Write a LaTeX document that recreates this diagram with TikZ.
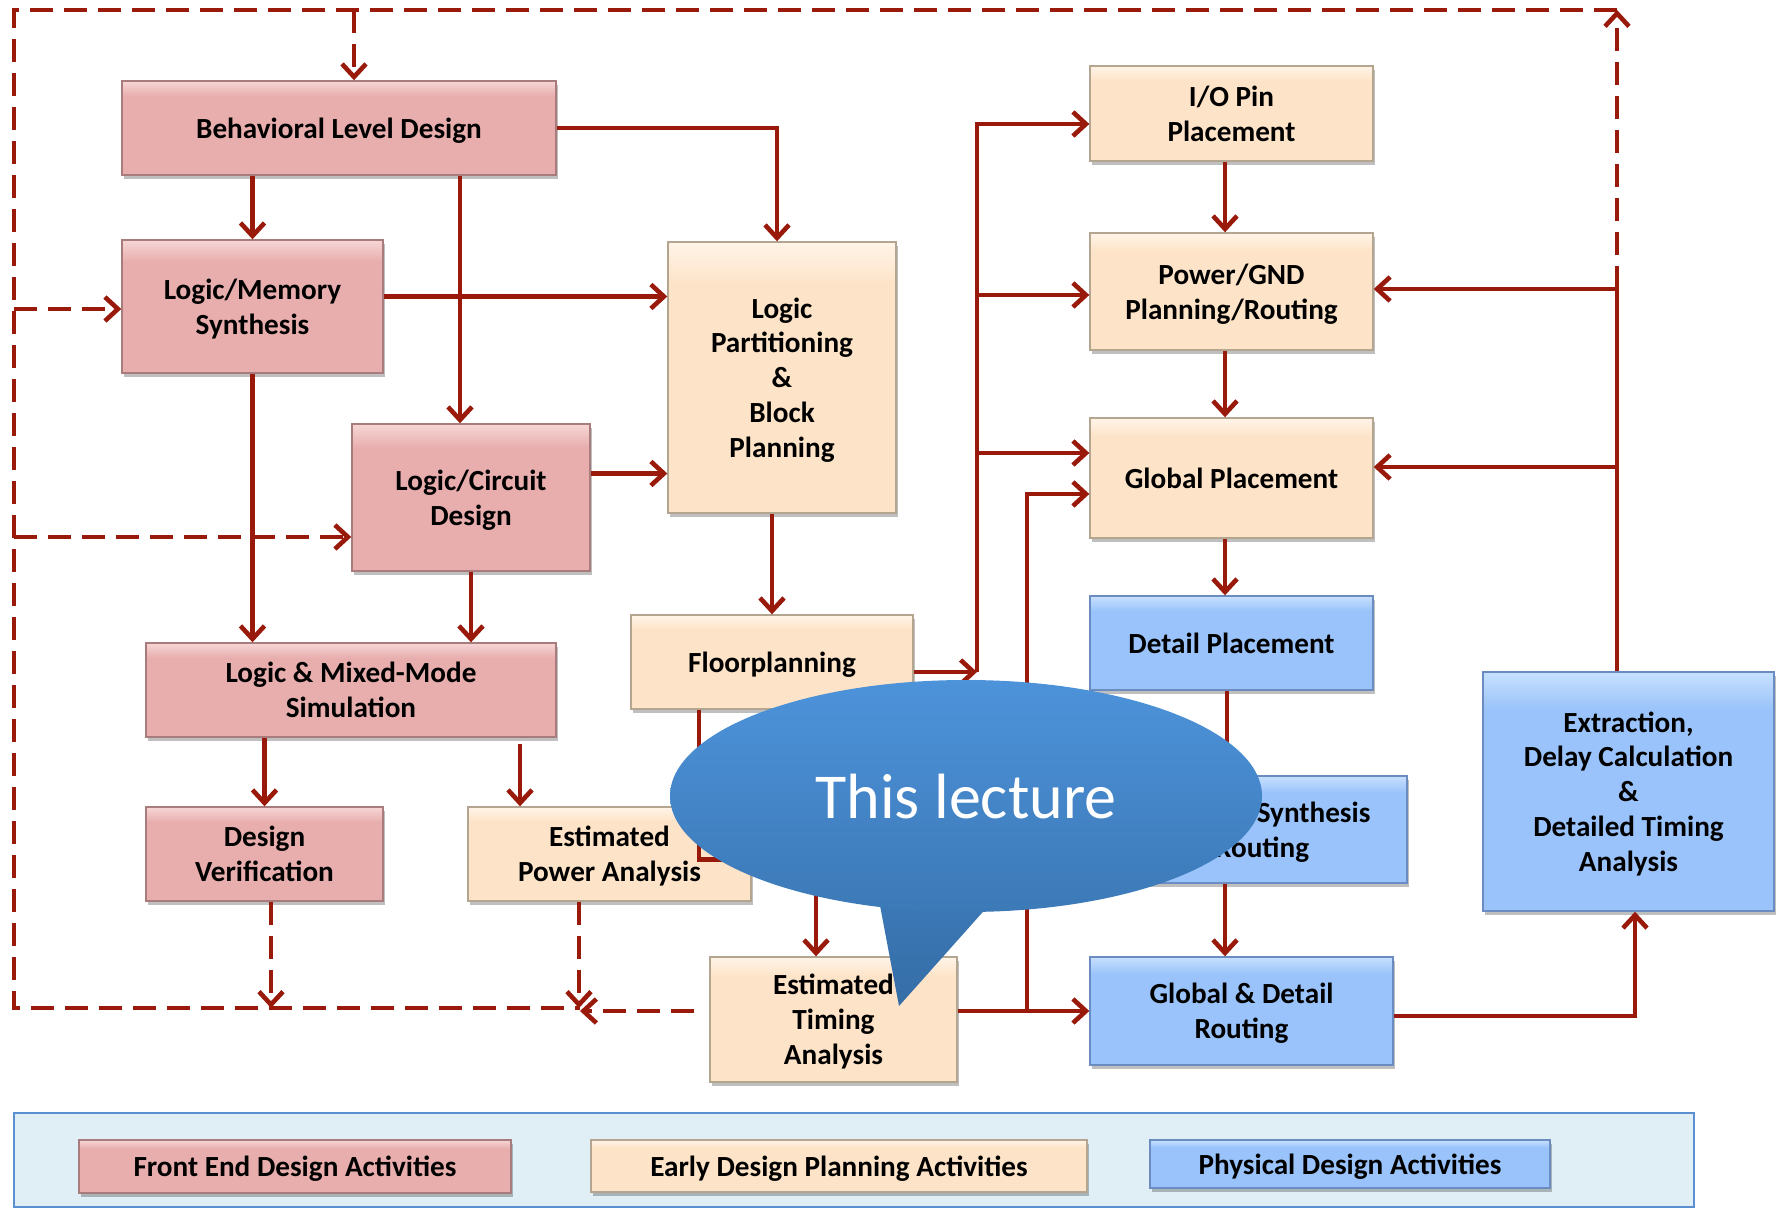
\documentclass[tikz,border=0pt]{standalone}
\usepackage{fontspec}
\setmainfont{Carlito}
\usetikzlibrary{arrows.meta,shadows,calc}
\definecolor{pinkbase}{HTML}{E8AEAE}
\definecolor{pinklight}{HTML}{F7D6D6}
\definecolor{pinkline}{HTML}{A87C7C}
\definecolor{peachbase}{HTML}{FDE3C7}
\definecolor{peachlight}{HTML}{FFF4E8}
\definecolor{peachline}{HTML}{B4A590}
\definecolor{bluebase}{HTML}{99C3FA}
\definecolor{bluelight}{HTML}{C8E0FF}
\definecolor{blueline}{HTML}{6A8CC0}
\definecolor{flow}{HTML}{991A0B}
\definecolor{legfill}{HTML}{E0EFF5}
\definecolor{legline}{HTML}{5B8FD2}
\definecolor{calltop}{HTML}{4D93DA}
\definecolor{callbot}{HTML}{3C79B7}
\definecolor{calltail}{HTML}{356DA6}
\pgfdeclareverticalshading{pinksh}{100bp}{color(0bp)=(pinkbase); color(25bp)=(pinkbase); color(67bp)=(pinkbase); color(75bp)=(pinklight); color(100bp)=(pinklight)}
\pgfdeclareverticalshading{peachsh}{100bp}{color(0bp)=(peachbase); color(25bp)=(peachbase); color(67bp)=(peachbase); color(75bp)=(peachlight); color(100bp)=(peachlight)}
\pgfdeclareverticalshading{bluesh}{100bp}{color(0bp)=(bluebase); color(25bp)=(bluebase); color(67bp)=(bluebase); color(75bp)=(bluelight); color(100bp)=(bluelight)}
\tikzset{
 box/.style={draw, line width=0.7pt, inner sep=0pt, align=center, text=black,
   font=\bfseries\fontsize{14.6}{17.4}\selectfont, text depth=-2.8pt,
   drop shadow={shadow xshift=1pt, shadow yshift=-2pt, opacity=0.25, fill=black}},
 fe/.style={box, draw=pinkline, shade, shading=pinksh},
 ep/.style={box, draw=peachline, shade, shading=peachsh},
 pd/.style={box, draw=blueline, shade, shading=bluesh},
 wh/.style 2 args={minimum width=#1pt, minimum height=#2pt},
 conn/.style={draw=flow, line width=2.3pt},
 arr/.style={conn, -{Straight Barb[length=6.5pt,width=12pt]}},
 dashl/.style={conn, dash pattern=on 11.5pt off 5.5pt},
 dasharr/.style={dashl, -{Straight Barb[length=6.5pt,width=12pt]}},
}
\begin{document}
\begin{tikzpicture}[x=0.5pt,y=-0.5pt]
\useasboundingbox (0,0) rectangle (1776,1209);
% boxes
\node[fe, wh={217}{47}] (bld) at (339,128) {Behavioral Level Design};
\node[fe, wh={130.5}{66.5}] (lms) at (252.5,306.5) {Logic/Memory\\Synthesis};
\node[fe, wh={119}{73.5}] (lcd) at (471,497.5) {Logic/Circuit\\Design};
\node[ep, wh={114}{135.5}] (lpb) at (782,377.5) {Logic\\Partitioning\\\&\\Block\\Planning};
\node[fe, wh={205}{47}, text depth=-6pt] (lmm) at (351,690) {Logic \& Mixed-Mode\\Simulation};
\node[fe, wh={118.5}{47}, text depth=-5pt] (dv) at (264.5,854) {Design\\Verification};
\node[ep, wh={141.5}{47}] (epa) at (609.5,854) {Estimated\\Power Analysis};
\node[ep, wh={141}{47}] (fp) at (772,662) {Floorplanning};
\node[ep, wh={123.5}{62.5}] (eta) at (833.5,1019.5) {Estimated\\Timing\\Analysis};
\node[ep, wh={141.5}{47.5}] (iop) at (1231.5,113.5) {I/O Pin\\Placement};
\node[ep, wh={141.5}{58.5}] (pgr) at (1231.5,291.5) {Power/GND\\Planning/Routing};
\node[ep, wh={141.5}{60}] (gp) at (1231.5,478) {Global Placement};
\node[pd, wh={141.5}{47}] (dp) at (1231.5,643) {Detail Placement};
\node[pd, wh={158.5}{53.5}] (cts) at (1248.5,829.5) {Clock Tree Synthesis\\\& Routing};
\node[pd, wh={151.5}{54}] (gdr) at (1241.5,1011) {Global \& Detail\\Routing};
\node[pd, wh={145.5}{119.5}] (ext) at (1628.5,791.5) {Extraction,\\Delay Calculation\\\&\\Detailed Timing\\Analysis};
% front-end connectors
\draw[arr] (lms.north |- bld.south) -- (lms.north);
\draw[arr] ([xshift=-5.5pt]lcd.north |- bld.south) -- ([xshift=-5.5pt]lcd.north);
\draw[arr] (bld.east) -| ([xshift=-2.5pt]lpb.north);
\draw[arr] ([yshift=5pt]lms.east) -- ([yshift=5pt]lms.east -| lpb.west);
\draw[arr] ([yshift=12pt]lcd.east) -- ([yshift=12pt]lcd.east -| lpb.west);
\draw[arr] (lms.south) -- (lms.south |- lmm.north);
\draw[arr] (lcd.south) -- (lcd.south |- lmm.north);
\draw[arr] (dv.north |- lmm.south) -- (dv.north);
\draw[arr] ([xshift=-44.75pt,yshift=-3pt]epa.north |- lmm.south) -- ([xshift=-44.75pt]epa.north);
\draw[arr] (fp.north |- lpb.south) -- (fp.north);
\draw[arr] ([xshift=-36.5pt]fp.south) -- ++(0,150) -| ([xshift=-8.75pt]eta.north);
% bus to physical design
\coordinate (busA) at (977,672);
\draw[arr] ([yshift=-5pt]fp.east) -- (busA);
\draw[arr] (busA) |- ([yshift=-5.25pt]iop.west);
\draw[arr] (busA) |- ([yshift=-1.75pt]pgr.west);
\draw[arr] (busA) |- ([yshift=12.5pt]gp.west);
\draw[arr] ([xshift=-3.25pt]iop.south) -- ([xshift=-3.25pt]pgr.north);
\draw[arr] ([xshift=-3.25pt]pgr.south) -- ([xshift=-3.25pt]gp.north);
\draw[arr] ([xshift=-3.25pt]gp.south) -- ([xshift=-3.25pt]dp.north);
\draw[arr] ([xshift=-2.25pt]dp.south) -- ([xshift=-2.25pt]dp.south |- cts.north);
\draw[arr] ([xshift=-11.75pt]cts.south) -- ([xshift=-11.75pt]cts.south |- gdr.north);
\draw[arr] (gdr.west -| eta.east) -- (gdr.west);
\coordinate (busB) at (1027,1011);
\draw[arr] (busB) |- ([yshift=-8pt]gp.west);
\draw[arr] ([yshift=-2.5pt]gdr.east) -| ([xshift=3.25pt]ext.south);
% feedback
\coordinate (fbMid) at (1617,289);
\coordinate (fbTop) at (1617,10);
\draw[conn] ([xshift=-5.75pt]ext.north) -- (fbMid);
\draw[arr] (fbMid) -- (fbMid -| pgr.east);
\draw[arr] ([xshift=-5.75pt,yshift=5.5pt]ext.north |- gp.east) -- ([yshift=5.5pt]gp.east);
\draw[dasharr] (fbMid) -- (fbTop);
\coordinate (tl) at (14,10);
\coordinate (bl) at (14,1008);
\coordinate (br) at (580,1008);
\draw[dashl] (fbTop) -- (tl) -- (bl) -- (br);
\draw[dasharr] ([xshift=7.5pt]bld.north |- tl) -- ([xshift=7.5pt]bld.north);
\draw[dasharr] ([yshift=-1.25pt]lms.west -| tl) -- ([yshift=-1.25pt]lms.west);
\draw[dasharr] ([yshift=-19.75pt]lcd.west -| tl) -- ([yshift=-19.75pt]lcd.west);
\draw[dasharr] ([xshift=3.25pt]dv.south) -- ([xshift=3.25pt]dv.south |- bl);
\draw[dasharr] ([xshift=-15.25pt]epa.south) -- ([xshift=-15.25pt]epa.south |- bl);
\draw[dasharr] ([xshift=-7.5pt,yshift=4.25pt]eta.west) -- ([yshift=4.25pt]eta.west -| br);
% legend
\node[draw=legline, fill=legfill, line width=1pt, inner sep=0pt, wh={840}{47}] (legend) at (854,1160) {};
\node[fe, wh={216}{26.5}] (leg1) at (295,1166.5) {Front End Design Activities};
\node[ep, wh={248}{26}] (leg2) at (839,1166) {Early Design Planning Activities};
\node[pd, wh={200}{24}] (leg3) at (1350,1164) {Physical Design Activities};
% callout
\shade[top color=callbot, bottom color=calltail] (878,895) -- (899,1006) -- (989,905) -- cycle;
\shade[top color=calltop, bottom color=callbot] (966,796) ellipse [x radius=148pt, y radius=58pt];
\node[text=white, font=\fontsize{32}{38}\selectfont] (lec) at (966,797) {This lecture};
\end{tikzpicture}
\end{document}
